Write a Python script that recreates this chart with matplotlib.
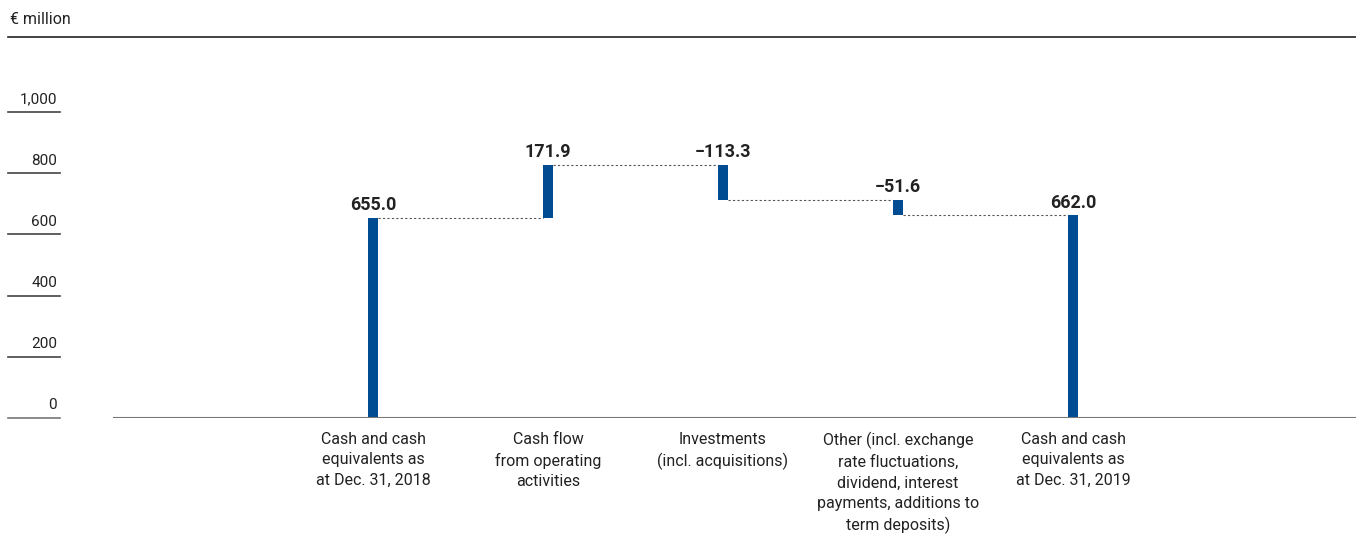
import matplotlib.pyplot as plt
import matplotlib.transforms as mtransforms

plt.rcParams['font.family'] = ['Roboto', 'DejaVu Sans']

categories = ['Cash and cash\nequivalents as\nat Dec. 31, 2018',
              'Cash flow\nfrom operating\nactivities',
              'Investments\n(incl. acquisitions)',
              'Other (incl. exchange\nrate fluctuations,\ndividend, interest\npayments, additions to\nterm deposits)',
              'Cash and cash\nequivalents as\nat Dec. 31, 2019']
values = [655.0, 171.9, -113.3, -51.6, 662.0]
is_total = [True, False, False, False, True]
labels = ['655.0', '171.9', '\u2212113.3', '\u221251.6', '662.0']
yticks = [0, 200, 400, 600, 800, 1000]
yticklabels = ['0', '200', '400', '600', '800', '1,000']

W, H = 1356, 556
fig = plt.figure(figsize=(W / 100, H / 100), dpi=100)
ax = fig.add_axes([113 / W, (H - 418) / H, (W - 113) / W, (418 - 37) / H])
ax.set_xlim(-1.486, 5.617)
ax.set_ylim(0, (418 - 37) / 0.306)
for s in ax.spines.values():
    s.set_visible(False)
ax.set_xticks([])
ax.set_yticks([])

blue = '#004C93'
txt = '#222222'
bw = 0.06
running = 0
tops = []
for i, (v, tot) in enumerate(zip(values, is_total)):
    if tot:
        bottom, height = 0, v
        running = v
    else:
        bottom = running if v >= 0 else running + v
        height = abs(v)
        running += v
    ax.bar(i, height, bottom=bottom, width=bw, color=blue, zorder=3)
    ax.text(i, bottom + height + 12, labels[i], ha='center', va='bottom',
            fontsize=13, fontweight='bold', color=txt)
    tops.append(running)
    ax.text(i, -46, categories[i], ha='center', va='top', fontsize=11.5,
            color=txt, linespacing=1.45)

for i in range(len(values) - 1):
    ax.plot([i + bw / 2, i + 1 - bw / 2], [tops[i], tops[i]], ls=(0, (2, 2)),
            lw=0.8, color='#555555', zorder=2)

ax.axhline(0, color='#777777', lw=1.5, zorder=4)

# y tick labels on the left, with short rules
trans = mtransforms.blended_transform_factory(fig.transFigure, ax.transData)
for t, lab in zip(yticks, yticklabels):
    fig.add_artist(plt.Line2D([8 / W, 60 / W], [t, t], transform=trans,
                              color='#777777' if t == 0 else '#444444', lw=1.2))
    ax.text(57 / W, t + 18, lab, transform=trans, ha='right', va='bottom',
            fontsize=11, color=txt)

fig.add_artist(plt.Line2D([8 / W, 1], [1 - 37 / H, 1 - 37 / H], color=txt, lw=1.2))
fig.text(10 / W, 1 - 20 / H, '\u20ac million', ha='left', va='center', fontsize=11.5, color=txt)

fig.savefig('out.png', dpi=100)
